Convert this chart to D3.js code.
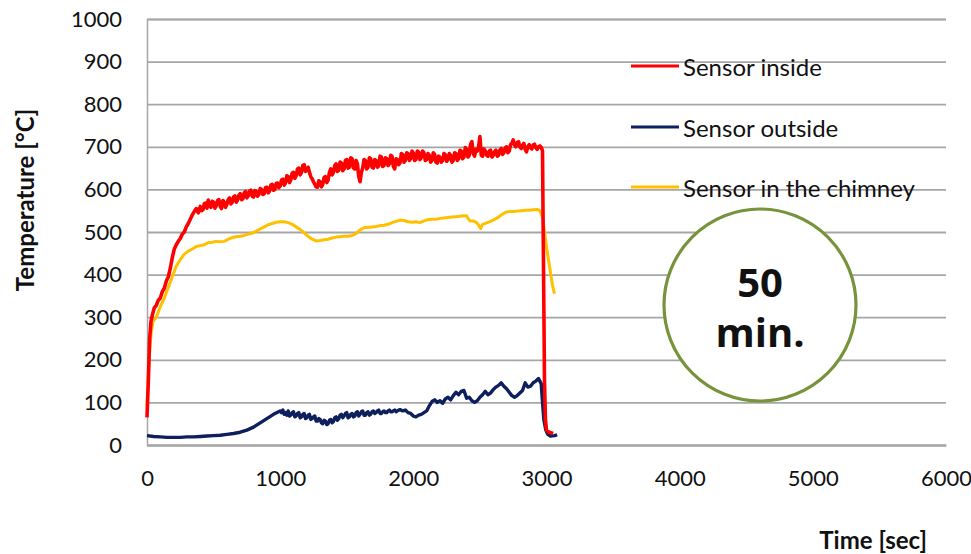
<!DOCTYPE html>
<html><head><meta charset="utf-8">
<script src="https://cdn.jsdelivr.net/npm/d3@7"></script>
<style>
html,body{margin:0;padding:0;background:#fff;}
svg{display:block;}
.tick text{font-family:Lato,"Open Sans",sans-serif;fill:#111;}
</style></head>
<body>
<svg id="chart" width="971" height="554"></svg>
<script>
// ---- data ----
const xTicks = [0, 1000, 2000, 3000, 4000, 5000, 6000];
const yTicks = [0, 100, 200, 300, 400, 500, 600, 700, 800, 900, 1000];
const seriesNames = ["Sensor inside", "Sensor outside", "Sensor in the chimney"];
const seriesColors = ["#ff0000", "#0d1f5c", "#ffc000"];
const xLabel = "Time [sec]";
const yLabel = "Temperature [°C]";
const badgeLines = ["50", "min."];

const sensorInside = [[0,65],[10,150],[20,250],[30,290],[40,305],[55,322],[70,328],[85,340],[100,345],[115,360],[130,368],[145,385],[160,395],[175,415],[190,440],[205,460],[220,470],[235,478],[250,485],[265,495],[280,500],[295,512],[310,520],[325,530],[340,540],[355,548],[370,555],[385,545],[400,560],[410,550],[420,552],[430,566],[440,568],[450,556],[460,575],[470,562],[480,558],[490,572],[500,570],[510,556],[520,562],[530,574],[540,576],[550,560],[560,555],[570,574],[580,570],[590,558],[600,565],[610,576],[620,580],[630,566],[640,570],[650,582],[660,585],[670,570],[680,575],[690,586],[700,590],[710,576],[720,578],[730,592],[740,595],[750,580],[760,585],[770,596],[780,598],[790,584],[800,582],[810,597],[820,596],[830,584],[840,588],[850,602],[860,600],[870,588],[880,590],[890,604],[900,605],[910,592],[920,596],[930,610],[940,612],[950,598],[960,600],[970,614],[980,615],[990,604],[1000,608],[1010,622],[1020,624],[1030,610],[1040,615],[1050,632],[1060,630],[1070,616],[1080,622],[1090,638],[1100,640],[1110,626],[1120,632],[1130,648],[1140,650],[1150,634],[1160,640],[1170,656],[1180,658],[1190,642],[1200,645],[1210,652],[1220,640],[1230,630],[1240,625],[1250,618],[1260,612],[1270,606],[1280,605],[1290,620],[1300,618],[1310,606],[1320,612],[1330,628],[1340,630],[1350,616],[1360,622],[1370,640],[1380,648],[1390,634],[1400,640],[1410,656],[1420,660],[1430,642],[1440,645],[1450,664],[1460,662],[1470,644],[1480,648],[1490,668],[1500,670],[1510,650],[1520,652],[1530,674],[1540,672],[1550,650],[1560,648],[1570,668],[1580,660],[1590,630],[1600,618],[1610,640],[1620,650],[1630,670],[1640,668],[1650,648],[1660,652],[1670,674],[1680,672],[1690,652],[1700,650],[1710,670],[1720,668],[1730,652],[1740,655],[1750,678],[1760,676],[1770,654],[1780,656],[1790,674],[1800,672],[1810,656],[1820,660],[1830,680],[1840,678],[1850,654],[1860,648],[1870,672],[1880,670],[1890,658],[1900,662],[1910,684],[1920,682],[1930,664],[1940,668],[1950,686],[1960,684],[1970,668],[1980,672],[1990,690],[2000,686],[2010,668],[2020,670],[2030,690],[2040,688],[2050,670],[2060,675],[2070,690],[2080,686],[2090,668],[2100,670],[2110,684],[2120,680],[2130,664],[2140,668],[2150,686],[2160,682],[2170,664],[2180,662],[2190,678],[2200,675],[2210,664],[2220,668],[2230,684],[2240,682],[2250,666],[2260,670],[2270,684],[2280,680],[2290,664],[2300,668],[2310,686],[2320,684],[2330,668],[2340,672],[2350,692],[2360,690],[2370,672],[2380,676],[2390,698],[2400,695],[2410,676],[2420,680],[2430,706],[2440,712],[2450,684],[2460,678],[2470,694],[2480,690],[2490,700],[2500,724],[2510,680],[2520,678],[2530,695],[2540,690],[2550,680],[2560,678],[2570,690],[2580,692],[2590,676],[2600,680],[2610,688],[2620,692],[2630,678],[2640,680],[2650,692],[2660,696],[2670,682],[2680,686],[2690,698],[2700,700],[2710,686],[2720,690],[2730,705],[2740,708],[2750,716],[2760,704],[2770,700],[2780,710],[2790,712],[2800,700],[2810,696],[2820,704],[2830,708],[2840,694],[2850,688],[2860,700],[2870,705],[2880,698],[2890,695],[2900,704],[2910,706],[2920,698],[2930,694],[2940,700],[2950,702],[2962,698],[2970,690],[2978,400],[2985,150],[2992,60],[3000,35],[3020,30],[3050,27]];

const sensorOutside = [[0,22],[50,20],[100,19],[150,18],[200,18],[250,18],[300,19],[350,19],[400,20],[450,21],[500,22],[550,23],[600,25],[650,27],[700,30],[750,35],[800,42],[850,52],[900,62],[950,72],[1000,80],[1010,76],[1020,82],[1030,72],[1040,76],[1050,70],[1060,80],[1070,68],[1080,70],[1090,76],[1100,78],[1110,66],[1120,68],[1130,74],[1140,76],[1150,64],[1160,66],[1170,72],[1180,74],[1190,62],[1200,64],[1210,70],[1220,72],[1230,60],[1240,62],[1250,66],[1260,68],[1270,56],[1280,56],[1290,62],[1300,60],[1310,52],[1320,50],[1330,58],[1340,56],[1350,48],[1360,50],[1370,58],[1380,60],[1390,52],[1400,55],[1410,64],[1420,66],[1430,58],[1440,62],[1450,70],[1460,72],[1470,64],[1480,68],[1490,74],[1500,76],[1510,64],[1520,66],[1530,72],[1540,74],[1550,66],[1560,68],[1570,76],[1580,78],[1590,68],[1600,72],[1610,78],[1620,80],[1630,70],[1640,70],[1650,76],[1660,78],[1670,70],[1680,72],[1690,78],[1700,80],[1710,74],[1720,76],[1730,80],[1740,82],[1750,74],[1760,74],[1770,78],[1780,80],[1790,76],[1800,76],[1810,80],[1820,82],[1830,78],[1840,78],[1850,80],[1860,82],[1870,78],[1880,80],[1890,82],[1900,83],[1920,80],[1940,82],[1960,76],[1980,74],[2000,68],[2020,66],[2040,70],[2060,72],[2080,76],[2100,80],[2120,92],[2140,102],[2160,106],[2180,100],[2200,104],[2220,98],[2240,108],[2260,112],[2280,106],[2300,116],[2320,124],[2340,118],[2360,126],[2380,128],[2400,110],[2420,112],[2440,104],[2460,100],[2480,104],[2500,112],[2520,118],[2540,126],[2560,118],[2580,122],[2600,130],[2620,136],[2640,140],[2660,146],[2680,138],[2700,132],[2720,124],[2740,116],[2760,112],[2780,116],[2800,122],[2820,128],[2840,146],[2860,136],[2880,138],[2900,146],[2920,150],[2940,156],[2960,144],[2970,100],[2980,60],[2995,35],[3010,25],[3030,21],[3060,22],[3080,24]];

const sensorChimney = [[0,90],[15,200],[30,260],[45,290],[70,300],[100,325],[130,345],[160,370],[190,395],[220,420],[250,435],[280,448],[310,455],[340,460],[370,466],[400,468],[430,470],[460,475],[490,476],[520,478],[550,477],[580,478],[610,483],[640,487],[670,489],[700,490],[730,492],[760,495],[790,497],[820,502],[850,507],[880,512],[910,517],[940,520],[970,523],[1000,524],[1030,524],[1060,522],[1090,518],[1120,512],[1150,506],[1180,498],[1210,490],[1240,483],[1270,479],[1300,480],[1330,482],[1360,483],[1390,486],[1420,488],[1450,489],[1480,490],[1510,490],[1540,492],[1570,496],[1600,505],[1630,510],[1660,511],[1690,512],[1720,513],[1750,515],[1780,516],[1810,518],[1840,522],[1870,525],[1900,528],[1930,527],[1960,524],[1990,523],[2020,524],[2050,522],[2080,526],[2110,529],[2140,530],[2170,530],[2200,532],[2230,533],[2260,534],[2290,535],[2320,536],[2350,537],[2380,538],[2400,538],[2410,532],[2425,526],[2450,526],[2475,522],[2490,516],[2505,508],[2520,518],[2545,521],[2570,524],[2600,528],[2630,533],[2660,540],[2690,546],[2720,548],[2750,548],[2780,549],[2810,550],[2840,551],[2870,551],[2900,552],[2930,553],[2950,550],[2970,535],[2990,490],[3000,465],[3015,435],[3030,405],[3045,375],[3060,355]];

// ---- drawing ----
const svg = d3.select("#chart");
const W = 971, H = 554;
const m = {left: 147, right: 971 - 946, top: 19, bottom: 554 - 445};
const x = d3.scaleLinear().domain([0, 6000]).range([m.left, W - m.right]);
const y = d3.scaleLinear().domain([0, 1000]).range([H - m.bottom, m.top]);
const gridColor = "#a6a6a6";
const textColor = "#111";
const font = "Lato, 'Open Sans', sans-serif";

// gridlines + y axis
const gy = svg.append("g").attr("transform", `translate(${m.left},0)`)
  .call(d3.axisLeft(y).tickValues(yTicks).tickSize(-(W - m.right - m.left)).tickFormat(d3.format("d")).tickPadding(25));
gy.select(".domain").attr("stroke", gridColor).attr("stroke-width", 1.5);
gy.selectAll(".tick line").attr("stroke", gridColor).attr("stroke-width", 1.8);
gy.selectAll(".tick text").style("font-size", "22px");

const gx = svg.append("g").attr("transform", `translate(0,${H - m.bottom})`)
  .call(d3.axisBottom(x).tickValues(xTicks).tickSize(0).tickFormat(d3.format("d")).tickPadding(25));
gx.select(".domain").attr("stroke", gridColor).attr("stroke-width", 2);
gx.selectAll(".tick text").style("font-size", "22px");

// lines
const line = d3.line().x(d => x(d[0])).y(d => y(d[1]));
const series = [sensorInside, sensorOutside, sensorChimney];
const widths = [3.6, 3.4, 3];
const order = [2, 1, 0];
order.forEach(i => {
  svg.append("path").datum(series[i])
    .attr("fill", "none").attr("stroke", seriesColors[i])
    .attr("stroke-width", widths[i]).attr("stroke-linejoin", "round")
    .attr("d", line);
});

// axis titles
svg.append("text").attr("transform", "translate(34,200) rotate(-90)")
  .attr("text-anchor", "middle").style("font-family", font)
  .style("font-weight", "bold").style("font-size", "24px").attr("fill", textColor)
  .text(yLabel);
svg.append("text").attr("x", 927).attr("y", 549).attr("text-anchor", "end")
  .style("font-family", font).style("font-weight", "bold")
  .style("font-size", "24px").attr("fill", textColor).text(xLabel);

// legend
const legY = [66, 127, 187];
const leg = svg.append("g");
seriesNames.forEach((n, i) => {
  leg.append("line").attr("x1", 631).attr("x2", 679).attr("y1", legY[i]).attr("y2", legY[i])
    .attr("stroke", seriesColors[i]).attr("stroke-width", 3);
  leg.append("text").attr("x", 683).attr("y", legY[i] + 10)
    .style("font-family", font).style("font-size", "24px")
    .attr("fill", textColor).text(n);
});

// badge
svg.append("circle").attr("cx", 760).attr("cy", 305).attr("r", 96)
  .attr("fill", "#fff").attr("stroke", "#77933c").attr("stroke-width", 3.2);
const bb = [297, 347];
badgeLines.forEach((t, i) => {
  svg.append("text").attr("x", 760).attr("y", bb[i]).attr("text-anchor", "middle")
    .style("font-family", "'Open Sans', sans-serif").style("font-weight", "bold")
    .style("font-size", "40px").attr("fill", "#111").text(t);
});
</script>
</body></html>
